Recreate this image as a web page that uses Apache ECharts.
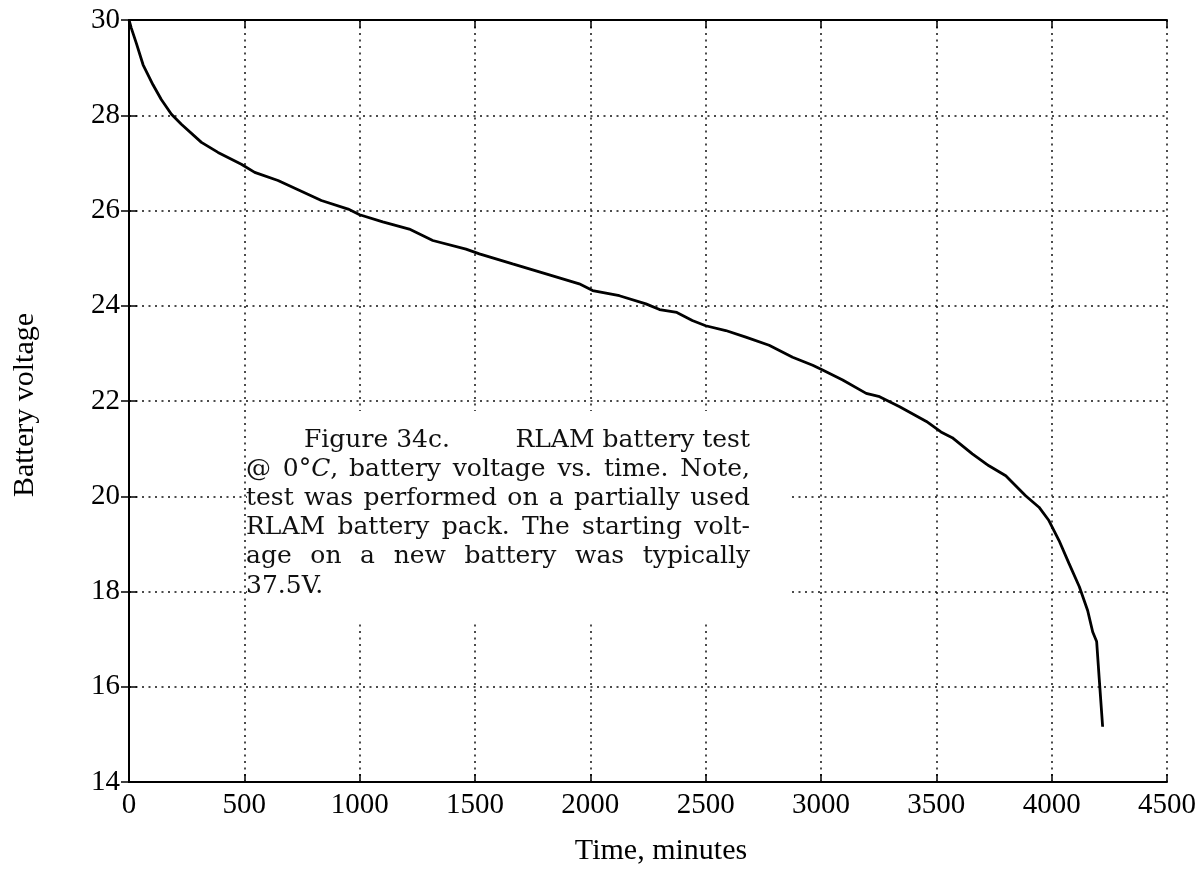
<!DOCTYPE html>
<html>
<head>
<meta charset="utf-8">
<script src="https://cdn.jsdelivr.net/npm/echarts@6/dist/echarts.min.js"></script>
<style>
html,body{margin:0;padding:0;background:#fff;}
#c{width:1204px;height:880px;}
</style>
</head>
<body>
<div id="c"></div>
<script>
// ---- data ----
const timeMin = [0, 10, 32, 61, 104, 140, 184, 227, 314, 386, 487, 545, 646, 740, 834, 950, 1000, 1100, 1215, 1317, 1461, 1519, 1663, 1808, 1952, 2010, 2126, 2241, 2300, 2375, 2442, 2500, 2587, 2674, 2775, 2877, 2964, 3007, 3094, 3196, 3254, 3341, 3457, 3520, 3569, 3656, 3728, 3801, 3887, 3945, 3988, 4032, 4075, 4120, 4156, 4178, 4195, 4206, 4221];
const voltage = [30.0, 29.83, 29.51, 29.06, 28.64, 28.33, 28.02, 27.81, 27.43, 27.22, 26.97, 26.80, 26.63, 26.42, 26.21, 26.03, 25.91, 25.76, 25.61, 25.37, 25.19, 25.09, 24.88, 24.67, 24.46, 24.32, 24.21, 24.04, 23.92, 23.86, 23.69, 23.58, 23.48, 23.34, 23.17, 22.92, 22.75, 22.65, 22.44, 22.16, 22.09, 21.88, 21.57, 21.35, 21.23, 20.89, 20.64, 20.43, 20.01, 19.77, 19.49, 19.07, 18.59, 18.10, 17.60, 17.15, 16.95, 16.18, 15.16];

const xTickValues = [0, 500, 1000, 1500, 2000, 2500, 3000, 3500, 4000, 4500];
const yTickValues = [14, 16, 18, 20, 22, 24, 26, 28, 30];

const xAxisName = 'Time, minutes';
const yAxisName = 'Battery voltage';

const noteFirst = ['Figure 34c.', 'RLAM battery test'];
const noteLines = [
  '@ 0°{i|C}, battery voltage vs. time. Note,',
  'test was performed on a partially used',
  'RLAM battery pack. The starting volt-',
  'age on a new battery was typically',
  '37.5V.'
];

// ---- chart ----
const chart = echarts.init(document.getElementById('c'), null, {renderer: 'canvas'});

const SERIF = '"Liberation Serif", "Times New Roman", serif';
const NOTE_FONT_FAMILY = '"DejaVu Serif", serif';
const NOTE_SIZE = 25;

const axisCommon = {
  axisLine: {show: true, lineStyle: {color: '#000', width: 2}},
  axisTick: {show: true, inside: true, length: 8, lineStyle: {color: '#000', width: 1.5}},
};
const gridLine = {show: true, lineStyle: {color: '#111', width: 1.5, type: [2, 4.5]}};

const xMin = xTickValues[0], xMax = xTickValues[xTickValues.length - 1];
const xStep = xTickValues[1] - xTickValues[0];
const yMin = yTickValues[0], yMax = yTickValues[yTickValues.length - 1];
const yStep = yTickValues[1] - yTickValues[0];

// measure text for justified note lines
const mctx = document.createElement('canvas').getContext('2d');
mctx.font = NOTE_SIZE + 'px ' + NOTE_FONT_FAMILY;
function w(s) { return mctx.measureText(s.replace(/\{i\|([^}]*)\}/g, '$1')).width; }

const noteLeft = 246, noteRight = 750, noteTop0 = 440, noteLead = 29.2;
const noteElems = [];
function txt(x, y, text, align) {
  noteElems.push({
    type: 'text', x: x, y: y, z: 102,
    style: {
      text: text, fill: '#111', align: align || 'left', verticalAlign: 'middle',
      font: NOTE_SIZE + 'px ' + NOTE_FONT_FAMILY,
      rich: {i: {fontStyle: 'italic', fontSize: NOTE_SIZE, fontFamily: 'DejaVu Serif', fill: '#111'}}
    }
  });
}
txt(304, noteTop0, noteFirst[0]);
txt(noteRight, noteTop0, noteFirst[1], 'right');
noteLines.forEach(function (line, i) {
  const y = noteTop0 + (i + 1) * noteLead;
  const words = line.split(' ');
  if (i === noteLines.length - 1) { txt(noteLeft, y, line); return; }
  const total = words.reduce(function (s, wd) { return s + w(wd); }, 0);
  const gap = (noteRight - noteLeft - total) / (words.length - 1);
  let x = noteLeft;
  words.forEach(function (wd) { txt(x, y, wd); x += w(wd) + gap; });
});

const plainNum = function (v) { return String(v); };

const option = {
  backgroundColor: '#fff',
  animation: false,
  grid: {left: 129, right: 37, top: 20, bottom: 98, containLabel: false},
  xAxis: [
    Object.assign({
      type: 'value', position: 'bottom', min: xMin, max: xMax, interval: xStep,
      axisLabel: {color: '#000', fontFamily: SERIF, fontSize: 29, margin: 9, formatter: plainNum},
      splitLine: gridLine
    }, axisCommon),
    Object.assign({
      type: 'value', position: 'top', min: xMin, max: xMax, interval: xStep,
      axisLabel: {show: false}, splitLine: {show: false}
    }, axisCommon)
  ],
  yAxis: [
    Object.assign({
      type: 'value', position: 'left', min: yMin, max: yMax, interval: yStep,
      axisLabel: {color: '#000', fontFamily: SERIF, fontSize: 29, margin: 9, formatter: plainNum},
      splitLine: gridLine
    }, axisCommon),
    Object.assign({
      type: 'value', position: 'right', min: yMin, max: yMax, interval: yStep,
      axisLabel: {show: false}, splitLine: {show: false}
    }, axisCommon)
  ],
  series: [{
    type: 'line',
    data: timeMin.map(function (t, i) { return [t, voltage[i]]; }),
    showSymbol: false,
    smooth: false,
    lineStyle: {color: '#000', width: 2.8},
    z: 5
  }],
  graphic: [
    {type: 'rect', shape: {x: 247, y: 411, width: 541, height: 210}, style: {fill: '#fff'}, z: 100},
    {type: 'text', x: 661, y: 851, z: 101,
      style: {text: xAxisName, fill: '#000', font: '30px ' + SERIF, align: 'center', verticalAlign: 'middle'}},
    {type: 'text', x: 25, y: 405, rotation: Math.PI / 2, z: 101,
      style: {text: yAxisName, fill: '#000', font: '30px ' + SERIF, align: 'center', verticalAlign: 'middle'}}
  ].concat(noteElems)
};
chart.setOption(option);
</script>
</body>
</html>
